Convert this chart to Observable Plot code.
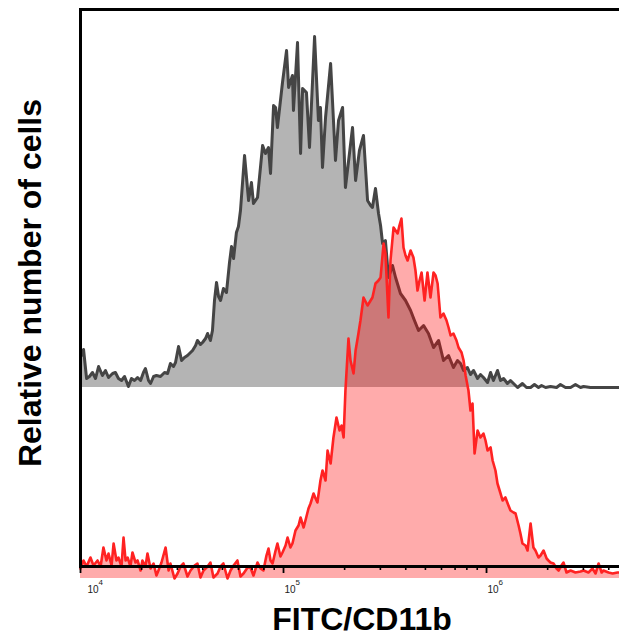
<!DOCTYPE html>
<html><head><meta charset="utf-8">
<script src="https://cdn.jsdelivr.net/npm/d3@7"></script>
<script src="https://cdn.jsdelivr.net/npm/@observablehq/plot@0.6"></script>
<style>body{margin:0;background:#fff}</style>
</head><body><div id="chart"></div>
<script>
// Isotype control (gray) histogram: log10 fluorescence, events per bin
const grayLogF = [4.005,4.015,4.030,4.044,4.059,4.074,4.089,4.108,4.123,4.138,4.158,4.172,4.187,4.202,4.217,4.236,4.251,4.266,4.281,4.296,4.310,4.320,4.335,4.345,4.360,4.374,4.394,4.414,4.429,4.443,4.458,4.468,4.483,4.498,4.512,4.527,4.542,4.552,4.567,4.576,4.591,4.601,4.616,4.626,4.640,4.650,4.660,4.670,4.680,4.690,4.704,4.719,4.734,4.744,4.754,4.768,4.778,4.788,4.808,4.828,4.842,4.852,4.872,4.897,4.911,4.926,4.936,4.951,4.961,4.970,4.995,5.015,5.025,5.044,5.049,5.069,5.084,5.094,5.113,5.128,5.153,5.172,5.182,5.192,5.207,5.232,5.256,5.271,5.291,5.305,5.340,5.355,5.374,5.394,5.414,5.429,5.438,5.453,5.468,5.478,5.488,5.502,5.517,5.537,5.552,5.576,5.601,5.626,5.645,5.665,5.690,5.714,5.739,5.764,5.788,5.813,5.837,5.857,5.872,5.887,5.906,5.921,5.936,5.956,5.970,5.985,6.005,6.020,6.034,6.054,6.069,6.084,6.103,6.118,6.138,6.153,6.177,6.197,6.217,6.236,6.256,6.271,6.291,6.315,6.345,6.364,6.389,6.414,6.438,6.463,6.478,6.512,6.562,6.611,6.655];
const grayCount = [32,38,9,11,15,9,21,12,17,10,14,15,9,7,11,1,9,7,10,7,15,19,7,4,11,12,11,15,14,24,21,25,41,27,30,32,35,37,42,47,43,45,49,54,47,57,87,105,91,87,99,95,125,141,129,155,161,177,232,187,205,184,190,242,234,240,214,282,280,260,305,337,300,312,277,345,234,299,295,240,351,267,280,220,270,324,227,267,280,200,260,207,237,252,187,182,180,199,174,162,144,147,110,122,110,94,87,77,67,57,62,54,40,47,27,32,20,27,24,17,20,13,17,9,13,10,5,15,7,17,7,9,4,7,3,0,4,0,0,3,0,2,0,1,0,3,0,0,3,0,1,0,0,0,0];

// CD11b stained sample (red) histogram
const redLogF = [4.000,4.015,4.030,4.049,4.064,4.084,4.099,4.113,4.128,4.138,4.153,4.163,4.177,4.187,4.202,4.212,4.222,4.232,4.246,4.256,4.271,4.281,4.296,4.305,4.320,4.330,4.345,4.360,4.374,4.384,4.399,4.419,4.434,4.443,4.463,4.478,4.493,4.507,4.527,4.542,4.562,4.576,4.591,4.606,4.626,4.640,4.655,4.675,4.690,4.704,4.724,4.739,4.754,4.773,4.788,4.803,4.823,4.837,4.852,4.872,4.887,4.901,4.916,4.926,4.936,4.946,4.961,4.970,4.985,4.995,5.010,5.020,5.034,5.044,5.059,5.074,5.084,5.099,5.108,5.123,5.133,5.148,5.158,5.167,5.182,5.192,5.207,5.217,5.232,5.246,5.261,5.276,5.286,5.296,5.305,5.320,5.330,5.345,5.355,5.369,5.379,5.394,5.414,5.429,5.438,5.453,5.468,5.478,5.493,5.502,5.517,5.527,5.542,5.562,5.571,5.581,5.591,5.601,5.611,5.626,5.640,5.650,5.660,5.670,5.680,5.695,5.709,5.724,5.739,5.749,5.759,5.773,5.788,5.803,5.813,5.823,5.837,5.852,5.862,5.877,5.887,5.897,5.911,5.921,5.931,5.941,5.956,5.970,5.985,5.995,6.005,6.020,6.030,6.044,6.054,6.069,6.079,6.093,6.108,6.118,6.133,6.143,6.158,6.167,6.177,6.192,6.202,6.217,6.231,6.241,6.256,6.266,6.281,6.296,6.305,6.315,6.330,6.345,6.355,6.369,6.379,6.394,6.414,6.438,6.463,6.478,6.502,6.522,6.537,6.552,6.567,6.576,6.601,6.621,6.645,6.655];
const redCount = [10,18,12,21,13,18,12,31,18,25,13,35,18,21,12,41,18,21,12,26,16,18,8,18,12,25,10,15,3,8,16,31,8,15,0,5,12,15,2,8,13,15,1,8,12,16,1,5,12,15,0,8,13,18,2,5,11,11,3,16,10,8,23,30,18,15,28,35,22,26,33,41,31,35,48,53,61,51,58,70,75,85,80,76,98,108,98,128,115,141,161,148,153,141,188,240,218,205,228,245,258,281,273,278,281,295,298,301,335,325,261,318,351,345,353,360,331,323,318,328,321,308,288,298,306,278,306,281,306,303,295,261,265,258,251,243,245,238,231,226,218,203,188,168,175,125,148,141,145,138,128,131,118,108,95,85,78,81,73,68,66,65,53,45,35,33,28,55,31,28,21,23,28,20,18,16,15,10,8,13,16,6,8,6,7,8,6,10,5,15,6,8,6,5,6,6];

// vertical offsets (events) used to stack the two overlaid histograms
const grayOffset = 191;
const redOffset = 0;

// axis ticks
const majorTicks = [1e4, 1e5, 1e6];
const minorTicks = [2e4,3e4,4e4,5e4,6e4,7e4,8e4,9e4,2e5,3e5,4e5,5e5,6e5,7e5,8e5,9e5,2e6,3e6,4e6];
const xLabel = "FITC/CD11b";
const yLabel = "Relative number of cells";

const gray = grayLogF.map((v, i) => ({F: 10 ** v, y: grayOffset + grayCount[i]}));
const red = redLogF.map((v, i) => ({F: 10 ** v, y: redOffset + redCount[i]}));

const font = "'Liberation Sans', Arial, Helvetica, sans-serif";

const chart = Plot.plot({
  width: 619,
  height: 637,
  marginLeft: 80,
  marginRight: 0,
  marginTop: 9,
  marginBottom: 71,
  style: {fontFamily: font, background: "white", overflow: "visible"},
  x: {type: "log", domain: [1e4, 10 ** 6.655]},
  y: {domain: [12, 569], axis: null},
  marks: [
    Plot.areaY(gray, {x: "F", y1: () => grayOffset, y2: "y", fill: "#b4b4b4"}),
    Plot.line(gray, {x: "F", y: "y", stroke: "#454545", strokeWidth: 3}),
    Plot.areaY(red, {x: "F", y1: () => redOffset, y2: "y", fill: "#ff0000", fillOpacity: 0.33}),
    Plot.line(red, {x: "F", y: "y", stroke: "#ff2222", strokeWidth: 2.6}),
    Plot.axisX({ticks: minorTicks, tickSize: 4, strokeWidth: 1.6, tickFormat: () => "", label: null}),
    Plot.axisX({ticks: majorTicks, tickSize: 7, strokeWidth: 1.8, tickFormat: () => "", label: null}),
    Plot.frame({anchor: "left", strokeWidth: 3}),
    Plot.frame({anchor: "top", strokeWidth: 3}),
    Plot.frame({anchor: "bottom", strokeWidth: 3}),
    Plot.text(majorTicks.slice(0, 1), {x: d => d, text: () => "10", frameAnchor: "bottom", lineAnchor: "middle", dy: 23, dx: 7, textAnchor: "start", fontSize: 10, fill: "#222"}),
    Plot.text(majorTicks.slice(1), {x: d => d, text: () => "10", frameAnchor: "bottom", lineAnchor: "middle", dy: 23, dx: 1, textAnchor: "start", fontSize: 10, fill: "#222"}),
    Plot.text(majorTicks.slice(0, 1), {x: d => d, text: d => String(Math.round(Math.log10(d))), frameAnchor: "bottom", lineAnchor: "middle", dy: 16, dx: 18, textAnchor: "start", fontSize: 8, fill: "#222"}),
    Plot.text(majorTicks.slice(1), {x: d => d, text: d => String(Math.round(Math.log10(d))), frameAnchor: "bottom", lineAnchor: "middle", dy: 16, dx: 12, textAnchor: "start", fontSize: 8, fill: "#222"}),
    Plot.text([xLabel], {text: d => d, frameAnchor: "bottom", lineAnchor: "middle", textAnchor: "middle", dy: 53, dx: 12, fontSize: 32, fontWeight: "bold", fill: "#000"}),
    Plot.text([yLabel], {text: d => d, frameAnchor: "left", lineAnchor: "middle", textAnchor: "middle", rotate: -90, dx: -50, dy: -5, fontSize: 32, fontWeight: "bold", fill: "#000"})
  ]
});
document.getElementById("chart").append(chart);
</script>
</body></html>
